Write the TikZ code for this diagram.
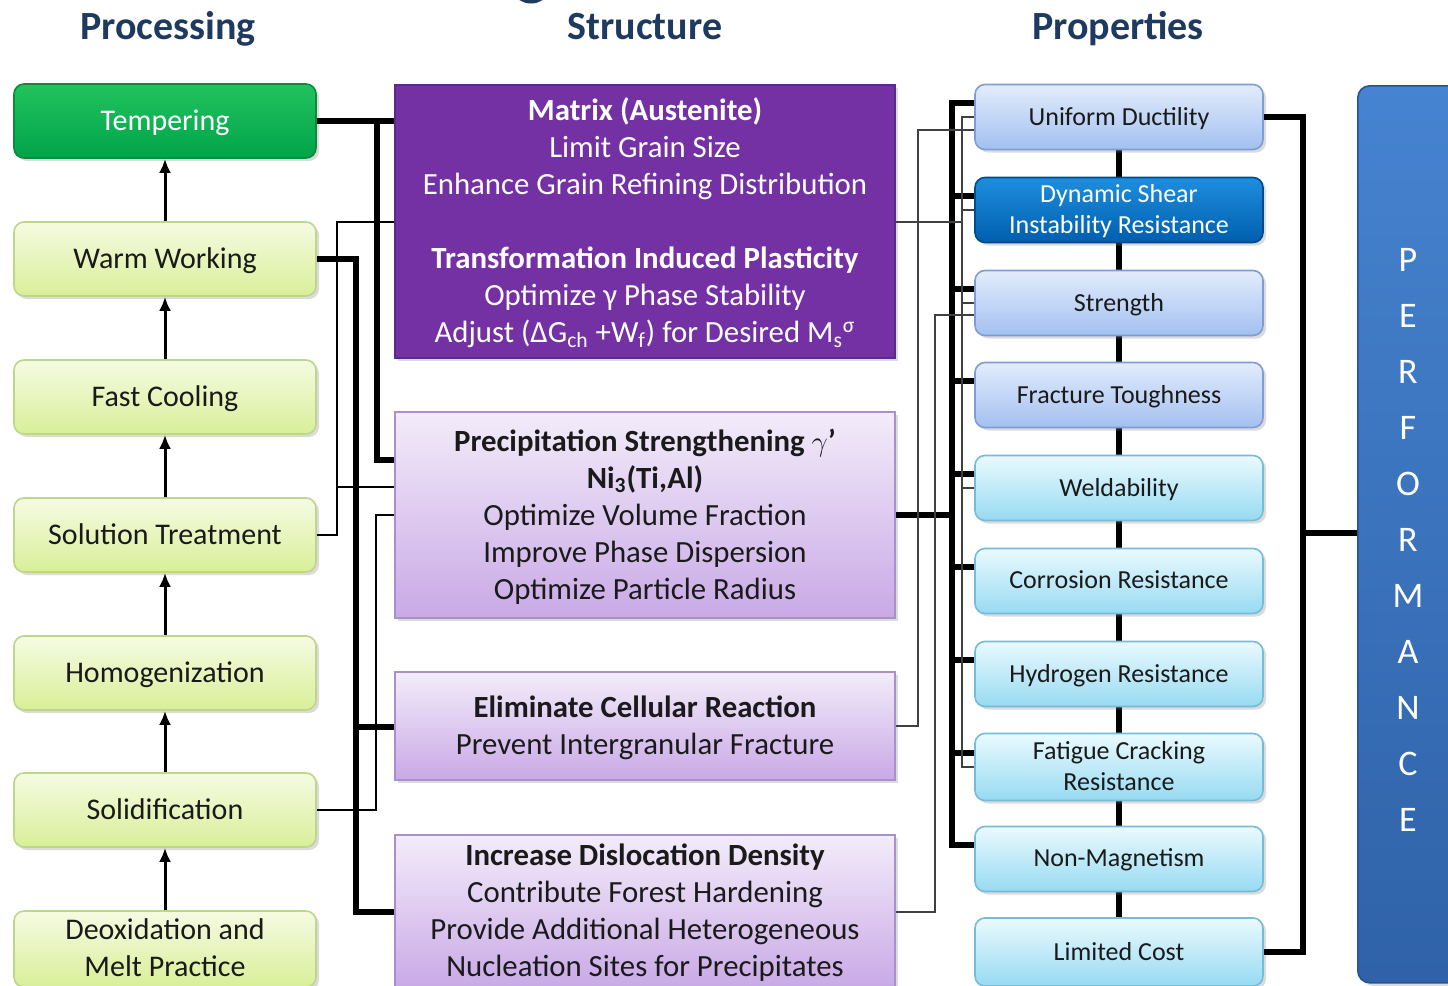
\documentclass[tikz,border=0pt]{standalone}
\usepackage{fontspec}
\setmainfont{Carlito}
\usetikzlibrary{arrows.meta,shadows,calc}
\definecolor{navy}{HTML}{1F3A60}
\definecolor{tempT}{HTML}{22C25E}
\definecolor{tempB}{HTML}{00A449}
\definecolor{tempD}{HTML}{0E8A3E}
\definecolor{procT}{HTML}{F5FBE2}
\definecolor{procB}{HTML}{D9EF98}
\definecolor{procD}{HTML}{BDD68C}
\definecolor{purp}{HTML}{7331A3}
\definecolor{purpD}{HTML}{5E2888}
\definecolor{lavT}{HTML}{F3ECFA}
\definecolor{lavB}{HTML}{C9A9E6}
\definecolor{lavD}{HTML}{A990CB}
\definecolor{pbT}{HTML}{E2ECFC}
\definecolor{pbB}{HTML}{A3C0F0}
\definecolor{pbD}{HTML}{7F9DD2}
\definecolor{pcT}{HTML}{EAFAFE}
\definecolor{pcB}{HTML}{97DAF2}
\definecolor{pcD}{HTML}{76BCD8}
\definecolor{dsT}{HTML}{1E8EDE}
\definecolor{dsB}{HTML}{005EAE}
\definecolor{perfT}{HTML}{4683D0}
\definecolor{perfB}{HTML}{2F62A8}
\definecolor{txt}{HTML}{1A1A1A}
\tikzset{
  shad/.style={drop shadow={opacity=0.28,shadow xshift=1.5pt,shadow yshift=-1.5pt}},
  procbox/.style={shad, rounded corners=5pt, draw=procD, line width=0.8pt, top color=procT, bottom color=procB,
    minimum width=151pt, minimum height=37pt, text=txt, font=\fontsize{15}{18.5}\selectfont, align=center,
    inner sep=0pt, text depth=1pt},
  tempbox/.style={procbox, draw=tempD, top color=tempT, bottom color=tempB, text=white},
  sbase/.style={shad, line width=0.8pt, minimum width=250pt, font=\fontsize{15.4}{18.5}\selectfont, align=center,
    inner sep=0pt, text depth=1pt},
  lavbox/.style={sbase, draw=lavD, top color=lavT, bottom color=lavB, text=txt},
  matrixbox/.style={sbase, draw=purpD, fill=purp, text=white},
  propbox/.style={shad, rounded corners=5pt, line width=0.8pt, minimum width=144pt, minimum height=32.5pt,
    font=\fontsize{13}{15.5}\selectfont, align=center, text=txt, inner sep=0pt, text depth=1pt},
  propA/.style={propbox, draw=pbD, top color=pbT, bottom color=pbB},
  propC/.style={propbox, draw=pcD, top color=pcT, bottom color=pcB},
  propD/.style={propbox, draw=dsB!80!black, top color=dsT, bottom color=dsB, text=white},
  perfbox/.style={shad, rounded corners=6pt, draw=perfB!85!black, line width=0.8pt, top color=perfT, bottom color=perfB},
  heavy/.style={line width=2.6pt, draw=black},
  light/.style={line width=1pt, draw=black},
  lightg/.style={line width=1pt, draw=black!75},
  uparrow/.style={line width=1.5pt, -{Latex[length=7pt,width=6pt]}},
  title/.style={font=\fontsize{20}{24}\selectfont\bfseries, text=navy, anchor=base, inner sep=0pt},
}
\begin{document}
\begin{tikzpicture}[x=0.5pt,y=-0.5pt]
\useasboundingbox (0,0) rectangle (1448,986);
\fill[white] (0,0) rectangle (1448,986);
\begin{scope}
\clip (0,0) rectangle (1448,986);
\draw[navy, line width=2.5pt] (531,-9) ellipse [x radius=14, y radius=10];

% titles
\node[title] (tproc) at (168,39) {Processing};
\node[title] (tstruct) at (645,39) {Structure};
\node[title] (tprop) at (1118,39) {Properties};

% processing
\node[tempbox] (temp) at (165,121) {Tempering};
\node[procbox] (warm) at (165,259) {Warm Working};
\node[procbox] (fast) at (165,397) {Fast Cooling};
\node[procbox] (sol) at (165,535) {Solution Treatment};
\node[procbox] (homo) at (165,673) {Homogenization};
\node[procbox] (solid) at (165,810) {Solidification};
\node[procbox, minimum height=38pt] (deox) at (165,949) {Deoxidation and\\Melt Practice};

% structure
\node[matrixbox, minimum height=136.5pt] (matrix) at (645,221.5)
 {\textbf{Matrix (Austenite)}\\Limit Grain Size\\Enhance Grain Refining Distribution\\[18.5pt]
  \textbf{Transformation Induced Plasticity}\\Optimize γ Phase Stability\\
  Adjust (ΔG\textsubscript{ch} +W\textsubscript{f}) for Desired M\textsubscript{s}\textsuperscript{σ}};
\node[lavbox, minimum height=103pt] (precip) at (645,515)
 {\textbf{Precipitation Strengthening $\gamma$’}\\\textbf{Ni\textsubscript{3}(Ti,Al)}\\Optimize Volume Fraction\\
  Improve Phase Dispersion\\Optimize Particle Radius};
\node[lavbox, minimum height=54pt] (cell) at (645,726)
 {\textbf{Eliminate Cellular Reaction}\\Prevent Intergranular Fracture};
\node[lavbox, minimum height=76.5pt] (disl) at (645,911.5)
 {\textbf{Increase Dislocation Density}\\Contribute Forest Hardening\\Provide Additional Heterogeneous\\
  Nucleation Sites for Precipitates};

% properties spine (behind boxes)
\coordinate (sp1) at (1119,117);
\coordinate (sp2) at (1119,952);
\draw[heavy] (sp1) -- (sp2);

% properties
\node[propA] (ud) at (1119,117) {Uniform Ductility};
\node[propD] (ds) at (1119,210) {Dynamic Shear\\Instability Resistance};
\node[propA] (st) at (1119,303) {Strength};
\node[propA] (ft) at (1119,395) {Fracture Toughness};
\node[propC] (we) at (1119,488) {Weldability};
\node[propC] (co) at (1119,581) {Corrosion Resistance};
\node[propC] (hy) at (1119,674) {Hydrogen Resistance};
\node[propC, minimum height=33.5pt] (fa) at (1119,767) {Fatigue Cracking\\Resistance};
\node[propC] (nm) at (1119,859) {Non-Magnetism};
\node[propC, minimum height=34pt] (lc) at (1119,952) {Limited Cost};

% performance
\node[perfbox, minimum width=55pt, minimum height=448.5pt, anchor=north west] (perf) at (1357,85) {};
\node[font=\fontsize{18}{28}\selectfont, text=white, align=center, inner sep=0pt] (perfl) at (1408,539.5)
 {P\\E\\R\\F\\O\\R\\M\\A\\N\\C\\E};

% processing arrows
\foreach \a/\b in {warm/temp, fast/warm, sol/fast, homo/sol, solid/homo, deox/solid}
  \draw[uparrow] (\a.north) -- (\b.south);

% processing -> structure
\coordinate (L1) at (377,460);
\coordinate (L2) at (356,912);
\coordinate (L3) at (356,727);
\coordinate (L4) at (337,222);
\coordinate (L5) at (337,487);
\coordinate (L6) at (376,515);
\draw[heavy] (temp.east) -- (temp.east -| matrix.west);
\draw[heavy] (temp.east) -| (L1) -- (L1 -| precip.west);
\draw[heavy] (warm.east) -| (L2) -- (L2 -| disl.west);
\draw[heavy] (L3) -- (L3 -| cell.west);
\draw[light] (sol.east) -| (L4) -- (L4 -| matrix.west);
\draw[light] (L5) -- (L5 -| precip.west);
\draw[light] (solid.east) -| (L6) -- (L6 -| precip.west);

% structure -> properties
\coordinate (Rb) at (952,845);
\draw[heavy] ($(ud.west)+(0,-14)$) -| (Rb) -- (Rb -| nm.west);
\draw[heavy] (precip.east) -- (precip.east -| Rb);
\foreach \n in {ds,st,ft,we,co,hy,fa}
  \draw[heavy] ($(\n.west)+(-23,-14)$) -- ($(\n.west)+(0,-14)$);
\coordinate (M2) at (962,767);
\draw[lightg] (ud.west) -| (M2) -- (M2 -| fa.west);
\draw[lightg] (matrix.east) -- (matrix.east -| M2);
\foreach \n in {ds,st,we}
  \draw[lightg] (\n.west) -- (\n.west -| M2);
\coordinate (C1) at (918,130);
\draw[lightg] (cell.east) -| (C1) -- (C1 -| ud.west);
\coordinate (D1) at (935,315);
\draw[lightg] (disl.east) -| (D1) -- (D1 -| st.west);

% properties -> performance
\coordinate (P2) at (1303,952);
\coordinate (P3) at (1303,533);
\draw[heavy] (ud.east) -| (P2) -- (lc.east);
\draw[heavy] (P3) -- (P3 -| perf.west);
\end{scope}
\end{tikzpicture}
\end{document}
